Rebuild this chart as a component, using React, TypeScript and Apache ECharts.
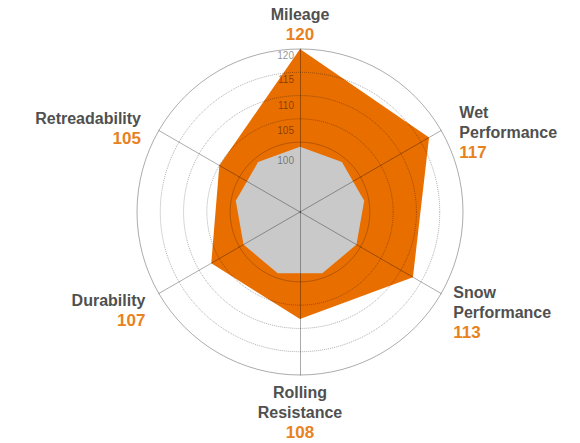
import React, { useEffect, useRef } from 'react';
import * as echarts from 'echarts';

// ---- data (listed in ECharts' radar order: counter-clockwise from the top) ----
const indicatorNames = ['Mileage', 'Retreadability', 'Durability', 'Rolling\nResistance', 'Snow\nPerformance', 'Wet\nPerformance'];
const scores = [120, 105, 107, 108, 113, 117];
const baselineScores = [99, 99, 99, 99, 99, 99, 99, 99, 99];
const scaleMin = 85;
const scaleMax = 120;
const scaleStep = 5;
const shownTickLabels = [100, 105, 110, 115, 120];
const solidRings = [100, 120];
const dottedRings = [105, 110, 115];

// ---- layout / style (not data) ----
const nameLayout = [
  { gap: 4.5, pad: [0, 0, 0, 0] },
  { gap: 20.6, pad: [16, 0, 0, 0] },
  { gap: 15.5, pad: [18, 0, 0, 0] },
  { gap: 7.5, pad: [0, 0, 0, 0] },
  { gap: 14, pad: [23, 0, 0, 0] },
  { gap: 21, pad: [25, 0, 0, 0] },
];
const tickLabelShift: Record<number, number> = { 100: 36, 105: 24, 110: 20, 115: 15, 120: 12 };

const FONT = '"Liberation Sans", Arial, sans-serif';
const ORANGE = '#E96E00';
const ORANGE_TEXT = '#E8821E';
const GREY_FILL = '#C9C9C9';
const CENTER: [number, number] = [300, 212];
const RADIUS = 163;

export default function App() {
  const ref = useRef<HTMLDivElement>(null);

  useEffect(() => {
    if (!ref.current) return;
    const chart = echarts.init(ref.current, null, { renderer: 'svg' });

    const ticks: number[] = [];
    for (let v = scaleMin; v <= scaleMax; v += scaleStep) ticks.push(v);
    const solidColors = ticks.map((t) =>
      t === 100 ? 'rgba(0,0,0,0.22)' : solidRings.includes(t) ? 'rgba(0,0,0,0.33)' : 'rgba(0,0,0,0)'
    );
    const dottedColors = ticks.map((t) => (dottedRings.includes(t) ? 'rgba(0,0,0,0.32)' : 'rgba(0,0,0,0)'));

    const tickRich: Record<string, any> = {};
    shownTickLabels.forEach((v) => {
      tickRich['t' + v] = {
        fontSize: 10,
        fontFamily: FONT,
        color: 'rgba(0,0,0,0.45)',
        padding: [tickLabelShift[v], 0, 0, 0],
      };
    });

    const mainIndicators = indicatorNames.map((name, i) => {
      const ind: any = {
        name,
        min: scaleMin,
        max: scaleMax,
        nameGap: nameLayout[i].gap,
        nameTextStyle: { padding: nameLayout[i].pad },
      };
      if (i === 0) {
        ind.axisLabel = {
          show: true,
          fontSize: 10,
          fontFamily: FONT,
          color: 'rgba(0,0,0,0.45)',
          margin: 6,
          formatter: (v: number) => (shownTickLabels.includes(v) ? `{t${v}|${v}}` : ''),
          rich: tickRich,
        };
      }
      return ind;
    });

    const plainIndicators = indicatorNames.map(() => ({ min: scaleMin, max: scaleMax }));
    const baseIndicators = baselineScores.map(() => ({ min: scaleMin, max: scaleMax }));

    const option: any = {
      animation: false,
      radar: [
        {
          z: 5,
          center: CENTER,
          radius: RADIUS,
          shape: 'circle',
          splitNumber: (scaleMax - scaleMin) / scaleStep,
          indicator: mainIndicators,
          axisName: {
            show: true,
            formatter: (name: string) => {
              const idx = indicatorNames.indexOf(name);
              const lines = name.split('\n').map((l) => `{n|${l}}`);
              return lines.join('\n') + `\n{v|${scores[idx]}}`;
            },
            rich: {
              n: { fontSize: 16, fontWeight: 'bold', color: '#505050', lineHeight: 20, fontFamily: FONT },
              v: { fontSize: 17, fontWeight: 'bold', color: ORANGE_TEXT, lineHeight: 20, fontFamily: FONT },
            },
          },
          axisLine: { show: true, lineStyle: { color: 'rgba(0,0,0,0.33)', width: 1 } },
          splitLine: { show: true, lineStyle: { color: solidColors, width: 1, type: 'solid' } },
          splitArea: { show: false },
          axisTick: { show: false },
          axisLabel: { show: false },
        },
        {
          z: 5,
          center: CENTER,
          radius: RADIUS,
          shape: 'circle',
          splitNumber: (scaleMax - scaleMin) / scaleStep,
          indicator: plainIndicators,
          axisName: { show: false },
          axisLine: { show: false },
          splitLine: { show: true, lineStyle: { color: dottedColors, width: 1, type: 'dotted' } },
          splitArea: { show: false },
          axisTick: { show: false },
          axisLabel: { show: false },
        },
        {
          z: 0,
          center: CENTER,
          radius: RADIUS,
          shape: 'circle',
          splitNumber: (scaleMax - scaleMin) / scaleStep,
          indicator: baseIndicators,
          axisName: { show: false },
          axisLine: { show: false },
          splitLine: { show: false },
          splitArea: { show: false },
          axisTick: { show: false },
          axisLabel: { show: false },
        },
      ],
      series: [
        {
          type: 'radar',
          radarIndex: 0,
          z: 2,
          symbol: 'none',
          silent: true,
          lineStyle: { width: 0 },
          areaStyle: { color: ORANGE, opacity: 1 },
          data: [{ value: scores, name: 'Score' }],
        },
        {
          type: 'radar',
          radarIndex: 2,
          z: 3,
          symbol: 'none',
          silent: true,
          lineStyle: { width: 0 },
          areaStyle: { color: GREY_FILL, opacity: 1 },
          data: [{ value: baselineScores, name: 'Baseline' }],
        },
      ],
    };

    chart.setOption(option);
    return () => chart.dispose();
  }, []);

  return (
    <div
      ref={ref}
      style={{ position: 'fixed', left: 0, top: 0, width: 580, height: 443, background: '#ffffff' }}
    />
  );
}
